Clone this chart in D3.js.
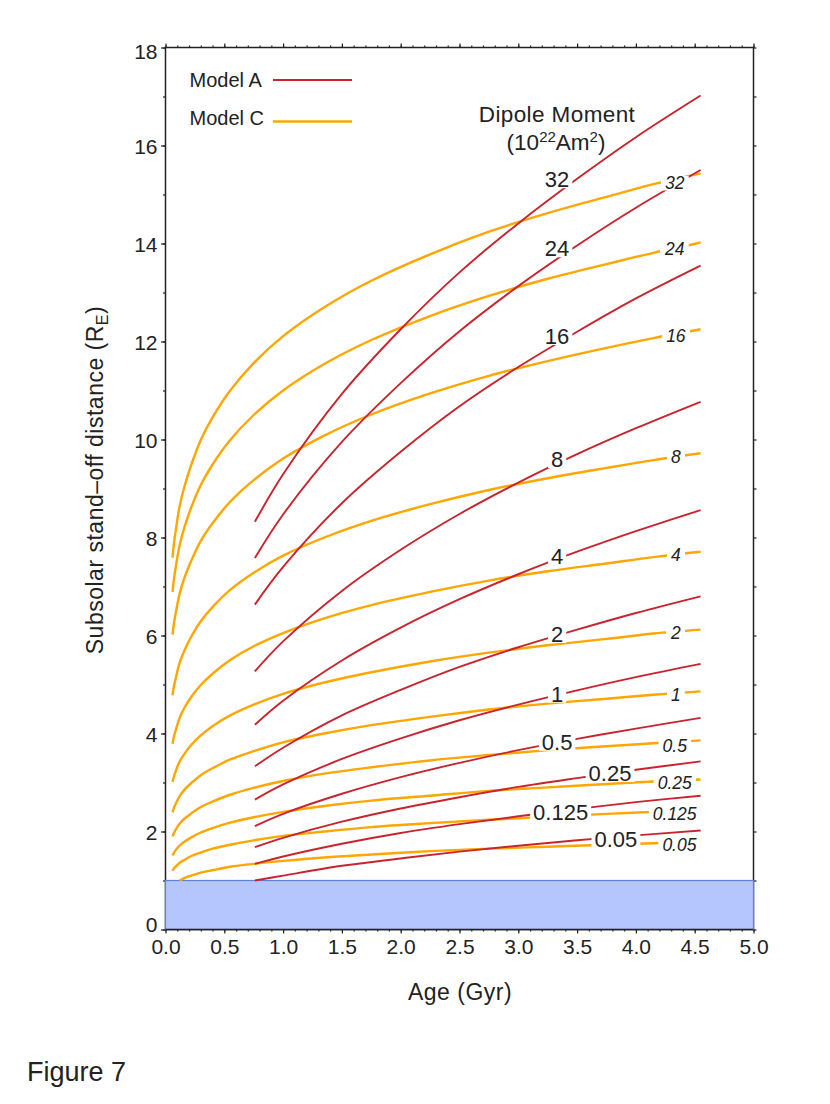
<!DOCTYPE html>
<html>
<head>
<meta charset="utf-8">
<script src="https://cdn.jsdelivr.net/npm/d3@7"></script>
<style>
  body { margin: 0; background: #fff; }
  svg text { font-family: "Liberation Sans", Arial, Helvetica, sans-serif; fill: #222; }
</style>
</head>
<body>
<div id="chart"></div>
<script>
// dipole moments (10^22 Am^2), top curve first
const moments = ['32', '24', '16', '8', '4', '2', '1', '0.5', '0.25', '0.125', '0.05']

// Model A (red)
const agesA = [0.76, 1.0, 1.5, 2.0, 2.5, 3.0, 3.5, 4.0, 4.55]
const modelA = [
  [8.32, 9.29, 10.93, 12.25, 13.41, 14.41, 15.32, 16.17, 17.02],
  [7.58, 8.47, 9.95, 11.15, 12.21, 13.13, 13.96, 14.73, 15.5],
  [6.63, 7.4, 8.7, 9.75, 10.68, 11.48, 12.2, 12.88, 13.55],
  [5.27, 5.88, 6.91, 7.75, 8.48, 9.12, 9.7, 10.23, 10.77],
  [4.18, 4.67, 5.49, 6.16, 6.74, 7.25, 7.71, 8.13, 8.56],
  [3.33, 3.71, 4.37, 4.89, 5.36, 5.76, 6.12, 6.46, 6.8],
  [2.65, 2.96, 3.48, 3.9, 4.27, 4.59, 4.88, 5.15, 5.42],
  [2.11, 2.36, 2.77, 3.11, 3.4, 3.66, 3.89, 4.1, 4.32],
  [1.68, 1.87, 2.2, 2.47, 2.7, 2.91, 3.09, 3.26, 3.43],
  [1.34, 1.49, 1.75, 1.97, 2.15, 2.31, 2.46, 2.6, 2.73],
  [1.0, 1.1, 1.3, 1.45, 1.59, 1.71, 1.82, 1.92, 2.02]
]

// Model C (orange)
const agesC = [0.06, 0.07, 0.09, 0.12, 0.16, 0.22, 0.3, 0.4, 0.55, 0.75, 1.0, 1.35, 1.75, 2.25, 2.75, 3.25, 3.75, 4.15, 4.55]
const modelC = [
  [7.59, 7.84, 8.19, 8.64, 9.03, 9.49, 9.99, 10.45, 11.0, 11.56, 12.11, 12.7, 13.24, 13.78, 14.24, 14.62, 14.95, 15.21, 15.43],
  [6.89, 7.12, 7.44, 7.84, 8.2, 8.62, 9.07, 9.49, 9.99, 10.5, 11.0, 11.54, 12.03, 12.52, 12.93, 13.28, 13.58, 13.81, 14.02],
  [6.02, 6.22, 6.5, 6.85, 7.17, 7.53, 7.93, 8.29, 8.73, 9.17, 9.61, 10.08, 10.51, 10.94, 11.3, 11.6, 11.87, 12.07, 12.25],
  [4.78, 4.94, 5.16, 5.44, 5.69, 5.98, 6.29, 6.58, 6.93, 7.28, 7.63, 8.0, 8.34, 8.68, 8.97, 9.21, 9.42, 9.58, 9.72],
  [3.79, 3.92, 4.09, 4.32, 4.52, 4.75, 4.99, 5.22, 5.5, 5.78, 6.05, 6.35, 6.62, 6.89, 7.12, 7.31, 7.47, 7.6, 7.71],
  [3.01, 3.11, 3.25, 3.43, 3.58, 3.77, 3.96, 4.15, 4.37, 4.59, 4.81, 5.04, 5.25, 5.47, 5.65, 5.8, 5.93, 6.04, 6.12],
  [2.39, 2.47, 2.58, 2.72, 2.85, 2.99, 3.15, 3.29, 3.47, 3.64, 3.82, 4.0, 4.17, 4.34, 4.49, 4.61, 4.71, 4.79, 4.86],
  [1.9, 1.96, 2.05, 2.16, 2.26, 2.37, 2.5, 2.61, 2.75, 2.89, 3.03, 3.18, 3.31, 3.45, 3.56, 3.66, 3.74, 3.8, 3.86],
  [1.51, 1.56, 1.63, 1.71, 1.79, 1.88, 1.98, 2.07, 2.18, 2.29, 2.4, 2.52, 2.63, 2.73, 2.83, 2.9, 2.97, 3.02, 3.06],
  [1.2, 1.24, 1.29, 1.36, 1.42, 1.5, 1.57, 1.65, 1.73, 1.82, 1.91, 2.0, 2.09, 2.17, 2.24, 2.3, 2.36, 2.4, 2.43],
  [null, null, null, 1.0, 1.05, 1.1, 1.16, 1.21, 1.28, 1.34, 1.4, 1.47, 1.53, 1.6, 1.65, 1.69, 1.73, 1.76, 1.79]
]

// where the contour-style labels sit (age, distance)
const labelAgeA = [3.33, 3.33, 3.33, 3.33, 3.33, 3.33, 3.33, 3.33, 3.78, 3.36, 3.83]
const labelValA = [15.31, 13.9, 12.11, 9.6, 7.62, 6.03, 4.81, 3.83, 3.19, 2.4, 1.85]
const labelAgeC = [4.33, 4.33, 4.34, 4.34, 4.34, 4.34, 4.34, 4.33, 4.33, 4.33, 4.37]
const labelValC = [15.23, 13.89, 12.11, 9.64, 7.64, 6.05, 4.79, 3.75, 2.99, 2.36, 1.74]

const xTicks = [0, 0.5, 1, 1.5, 2, 2.5, 3, 3.5, 4, 4.5, 5]
const yTicks = [0, 2, 4, 6, 8, 10, 12, 14, 16, 18]
const bandTop = 1

const red = '#c9242d'
const orange = '#ffa600'

const svg = d3
  .select('#chart')
  .append('svg')
  .attr('width', 830)
  .attr('height', 1104)

svg.append('rect').attr('width', 830).attr('height', 1104).attr('fill', '#fff')

const x = d3.scaleLinear().domain([0, 5]).range([165.5, 753.5])
const y = d3.scaleLinear().domain([0, 18]).range([929.5, 47.5])

const xMinor = d3.range(0, 5.001, 0.1)
const yMinor = d3.range(0, 18.001, 1)

function styleTicks(g) {
  g.select('.domain').remove()
  g.selectAll('.tick line').attr('stroke', '#222').attr('stroke-width', 1.2)
}

// minor ticks
svg.append('g').attr('transform', `translate(0,${y(0)})`)
  .call(d3.axisBottom(x).tickValues(xMinor).tickSize(2).tickFormat(''))
  .call(styleTicks)
svg.append('g').attr('transform', `translate(0,${y(18)})`)
  .call(d3.axisTop(x).tickValues(xMinor).tickSize(2).tickFormat(''))
  .call(styleTicks)
svg.append('g').attr('transform', `translate(${x(0)},0)`)
  .call(d3.axisLeft(y).tickValues(yMinor).tickSize(2.5).tickFormat(''))
  .call(styleTicks)
svg.append('g').attr('transform', `translate(${x(5)},0)`)
  .call(d3.axisRight(y).tickValues(yMinor).tickSize(3).tickFormat(''))
  .call(styleTicks)

// major ticks
const bottomAxis = svg.append('g').attr('transform', `translate(0,${y(0)})`)
  .call(d3.axisBottom(x).tickValues(xTicks).tickSize(4).tickFormat(d3.format('.1f')))
  .call(styleTicks)
bottomAxis.selectAll('text').attr('y', 24.5).attr('dy', 0).style('font-size', '21px')

svg.append('g').attr('transform', `translate(0,${y(18)})`)
  .call(d3.axisTop(x).tickValues(xTicks).tickSize(4).tickFormat(''))
  .call(styleTicks)

const leftAxis = svg.append('g').attr('transform', `translate(${x(0)},0)`)
  .call(d3.axisLeft(y).tickValues(yTicks).tickSize(4.5).tickFormat(d3.format('d')))
  .call(styleTicks)
leftAxis.selectAll('text')
  .attr('x', -8)
  .attr('dy', d => d === 0 ? '0.1em' : d === 18 ? '0.5em' : '0.36em')
  .style('font-size', '21px')

// frame
svg.append('rect')
  .attr('x', x(0)).attr('y', y(18))
  .attr('width', x(5) - x(0)).attr('height', y(0) - y(18))
  .attr('fill', 'none').attr('stroke', '#222').attr('stroke-width', 1.5)

// shaded band below 1 R_E
svg.append('rect')
  .attr('x', x(0)).attr('y', y(bandTop))
  .attr('width', x(5) - x(0)).attr('height', y(0) - y(bandTop))
  .attr('fill', '#b4c6fd').attr('stroke', '#5b80e4').attr('stroke-width', 1.2)
svg.append('line')
  .attr('x1', x(0)).attr('x2', x(5)).attr('y1', y(0)).attr('y2', y(0))
  .attr('stroke', '#222').attr('stroke-width', 1.5)

// curves
const line = d3.line()
  .defined(d => d[1] != null)
  .x(d => x(d[0])).y(d => y(d[1]))
  .curve(d3.curveCatmullRom.alpha(0.5))

svg.append('g').selectAll('path')
  .data(modelC)
  .join('path')
  .attr('d', vals => line(vals.map((v, i) => [agesC[i], v])))
  .attr('fill', 'none').attr('stroke', orange).attr('stroke-width', 2.4)

svg.append('g').selectAll('path')
  .data(modelA)
  .join('path')
  .attr('d', vals => line(vals.map((v, i) => [agesA[i], v])))
  .attr('fill', 'none').attr('stroke', red).attr('stroke-width', 1.9)

// labels with white knock-out boxes
const labels = svg.append('g')
function addLabel(text, cx, cy, size, italic, padX) {
  const g = labels.append('g')
  const t = g.append('text')
    .attr('x', cx)
    .attr('y', cy + 0.358 * size)
    .attr('text-anchor', 'middle')
    .style('font-size', size + 'px')
    .style('font-style', italic ? 'italic' : null)
    .text(text)
  const bb = t.node().getBBox()
  g.insert('rect', () => t.node())
    .attr('x', bb.x - padX)
    .attr('width', bb.width + 2 * padX)
    .attr('y', cy - 0.358 * size - 1)
    .attr('height', 0.716 * size + 2)
    .attr('fill', '#fff')
}
moments.forEach((m, i) => {
  addLabel(m, x(labelAgeA[i]), y(labelValA[i]), 22, false, 3)
  addLabel(m, x(labelAgeC[i]), y(labelValC[i]), 17.5, true, 4)
})

// legend
const legend = svg.append('g')
legend.append('text').attr('x', 189.5).attr('y', 87).style('font-size', '20px').text('Model A')
legend.append('line').attr('x1', 273).attr('x2', 352).attr('y1', 80).attr('y2', 80)
  .attr('stroke', red).attr('stroke-width', 1.9)
legend.append('text').attr('x', 189.5).attr('y', 125).style('font-size', '20px').text('Model C')
legend.append('line').attr('x1', 273).attr('x2', 352).attr('y1', 121.5).attr('y2', 121.5)
  .attr('stroke', orange).attr('stroke-width', 2.4)

// dipole moment heading
svg.append('text')
  .attr('x', 557).attr('y', 122)
  .attr('text-anchor', 'middle')
  .style('font-size', '22.5px')
  .style('letter-spacing', '0.4px')
  .text('Dipole Moment')
const unit = svg.append('text')
  .attr('x', 556).attr('y', 150)
  .attr('text-anchor', 'middle')
  .style('font-size', '22.5px')
unit.append('tspan').text('(10')
unit.append('tspan').attr('dy', -8).style('font-size', '15px').text('22')
unit.append('tspan').attr('dy', 8).text('Am')
unit.append('tspan').attr('dy', -8).style('font-size', '15px').text('2')
unit.append('tspan').attr('dy', 8).text(')')

// axis titles
svg.append('text')
  .attr('x', 460).attr('y', 1000)
  .attr('text-anchor', 'middle')
  .style('font-size', '23px')
  .style('letter-spacing', '0.5px')
  .text('Age (Gyr)')

const yTitle = svg.append('text')
  .attr('transform', 'translate(102.5,480) rotate(-90)')
  .attr('text-anchor', 'middle')
  .style('font-size', '23px')
  .style('letter-spacing', '0.5px')
yTitle.append('tspan').text('Subsolar stand\u2013off distance (R')
yTitle.append('tspan').attr('dy', 5).style('font-size', '16px').text('E')
yTitle.append('tspan').attr('dy', -5).text(')')

svg.append('text')
  .attr('x', 27).attr('y', 1081)
  .style('font-size', '27px')
  .text('Figure 7')
</script>
</body>
</html>
